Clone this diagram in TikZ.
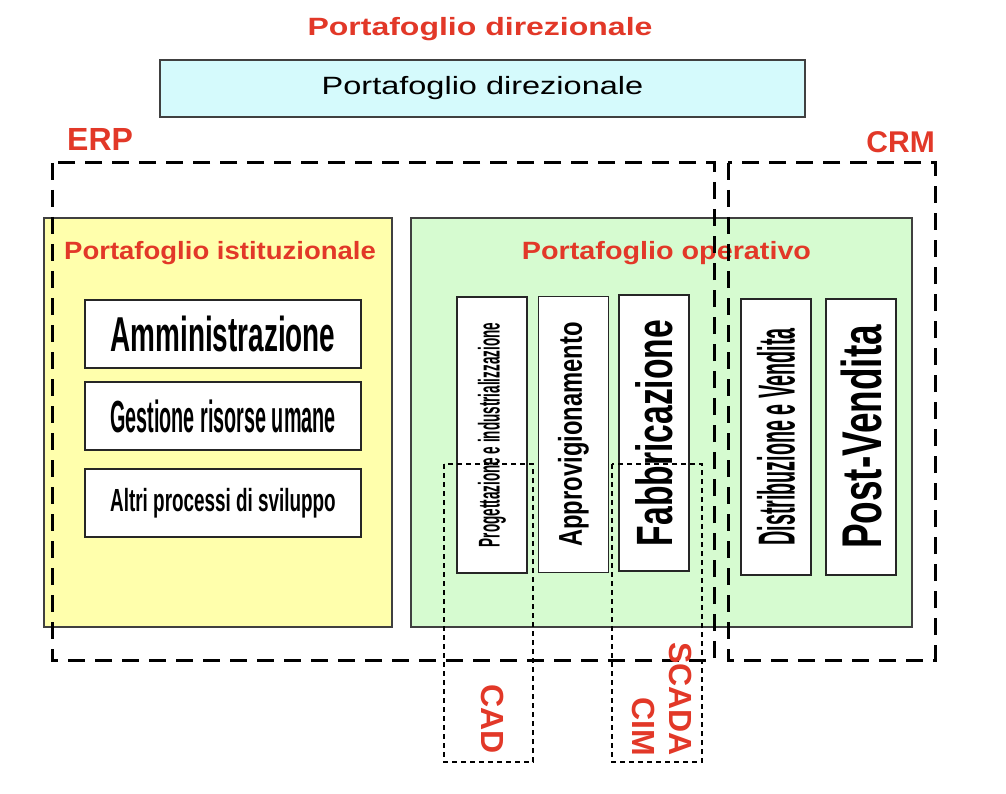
\documentclass[tikz,border=0pt]{standalone}
\usepackage{fontspec}
\setmainfont{Liberation Sans}
\usepackage{graphicx}
\definecolor{slidered}{RGB}{226,56,40}
\definecolor{panelcyan}{RGB}{213,250,252}
\definecolor{panelyellow}{RGB}{255,255,172}
\definecolor{panelgreen}{RGB}{214,251,208}
\newcommand{\squash}[2]{\scalebox{#1}[1]{#2}}

\begin{document}
\begin{tikzpicture}[x=1pt, y=-1pt,
    redlabel/.style={text=slidered, font=\bfseries\fontsize{25}{30}\selectfont, inner sep=0pt},
    panel/.style={draw=black!75, line width=1.2pt, inner sep=0pt},
    procbox/.style={draw=black!85, line width=1.4pt, fill=white, inner sep=0pt,
                    minimum width=276pt, minimum height=68pt},
    vbox/.style={procbox, minimum height=70pt, rotate=90},
    suite/.style={line width=3pt, dash pattern=on 17pt off 10pt},
    module/.style={line width=1.2pt, dash pattern=on 5pt off 4pt}]
    \useasboundingbox (0,0) rectangle (1006,794);
    \fill[white] (0,0) rectangle (1006,794);

    % directional level
    \node[redlabel, anchor=base] (dirtitle) at (480,36) {\squash{1.28}{Portafoglio direzionale}};
    \node[panel, fill=panelcyan, minimum width=645pt, minimum height=57pt,
          font=\fontsize{25}{30}\selectfont] (dir) at (482.5,88.5) {\squash{1.3}{Portafoglio direzionale}};

    % suite names
    \node[redlabel, font=\bfseries\fontsize{32}{38}\selectfont, anchor=base west] (erp) at (67,151) {ERP};
    \node[redlabel, font=\bfseries\fontsize{30}{36}\selectfont, anchor=base east] (crm) at (935,153) {CRM};

    % the two portfolios
    \node[panel, fill=panelyellow, minimum width=348pt, minimum height=409pt] (inst) at (218,422.5) {};
    \node[redlabel, anchor=base] (insttitle) at (220,259) {\squash{1.1}{Portafoglio istituzionale}};
    \node[panel, fill=panelgreen, minimum width=501pt, minimum height=409pt] (oper) at (661.5,422.5) {};
    \node[redlabel, anchor=base] (opertitle) at (666.5,259) {\squash{1.15}{Portafoglio operativo}};

    % institutional processes
    \node[procbox, font=\bfseries\fontsize{49}{55}\selectfont] (amm) at (223,334) {\squash{0.57}{Amministrazione}};
    \node[procbox, font=\bfseries\fontsize{45}{50}\selectfont] (hr) at (223,416) {\squash{0.44}{Gestione risorse umane}};
    \node[procbox, font=\bfseries\fontsize{32}{38}\selectfont] (dev) at (223,503) {\squash{0.59}{Altri processi di sviluppo}};

    % operational processes
    \node[vbox, font=\bfseries\fontsize{30}{36}\selectfont] (prog) at (492,435) {\squash{0.45}{Progettazione e industrializzazione}};
    \node[vbox, font=\bfseries\fontsize{33}{38}\selectfont] (appr) at (573.5,434.5) {\squash{0.72}{Approvigionamento}};
    \node[vbox, font=\bfseries\fontsize{51}{58}\selectfont] (fab) at (654,433) {\squash{0.66}{Fabbricazione}};
    \node[vbox, font=\bfseries\fontsize{52}{58}\selectfont] (dist) at (776,437) {\squash{0.38}{Distribuzione e Vendita}};
    \node[vbox, font=\bfseries\fontsize{56}{62}\selectfont] (post) at (861,437) {\squash{0.66}{Post-Vendita}};

    % ERP and CRM frames
    \draw[suite] (52,163) rectangle (714,660);
    \draw[suite] (728,163) rectangle (935,660);

    % CAD and SCADA/CIM frames
    \draw[module] (444,464) rectangle (533,762);
    \draw[module] (612,464) rectangle (702,762);
    \node[redlabel, font=\bfseries\fontsize{32}{37}\selectfont, rotate=-90] (cad) at (493,719) {CAD};
    \node[redlabel, font=\bfseries\fontsize{32}{37}\selectfont, rotate=-90, align=right,
          anchor=east] (scada) at (662,756) {SCADA\\CIM};
\end{tikzpicture}
\end{document}
